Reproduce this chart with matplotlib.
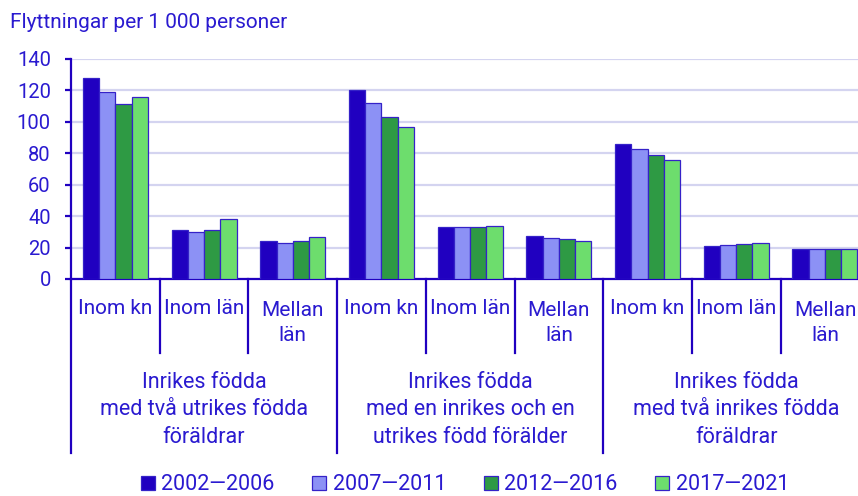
import numpy as np
import matplotlib.pyplot as plt
from matplotlib.patches import Patch

plt.rcParams['font.family'] = ['Roboto', 'DejaVu Sans']

categories = ['Inom kn', 'Inom län', 'Mellan\nlän'] * 3
groups = ['Inrikes födda\nmed två utrikes födda\nföräldrar',
          'Inrikes födda\nmed en inrikes och en\nutrikes född förälder',
          'Inrikes födda\nmed två inrikes födda\nföräldrar']
periods = ['2002\u20142006', '2007\u20142011', '2012\u20142016', '2017\u20142021']

v_2002 = [128, 31, 24.3, 120, 33, 27.3, 85.7, 20.8, 19.2]
v_2007 = [119, 30, 23, 112, 33, 26.2, 83, 21.5, 19.2]
v_2012 = [111.5, 31.5, 24.3, 103, 33, 25.3, 79, 22.4, 19.2]
v_2017 = [116, 38, 26.5, 97, 33.8, 24.5, 75.5, 23, 19.2]
series = [v_2002, v_2007, v_2012, v_2017]

colors = ['#2000c0', '#8c91f5', '#2e9a44', '#6ddd6d']
dark = '#2000c0'
txt = '#2a1ad0'

fig = plt.figure(figsize=(8.58, 4.96), dpi=100)
ax = fig.add_axes([71 / 858, 1 - 279 / 496, 787 / 858, 220 / 496])

x = np.arange(len(categories))
w = 0.183
for i, (vals, c) in enumerate(zip(series, colors)):
    ax.bar(x + (i - 1.5) * w, vals, w, color=c, edgecolor='#3522c8', linewidth=0.9, zorder=3)

ax.set_ylim(0, 140)
ax.set_xlim(-0.5, -0.5 + 787 / 88.7)
ax.set_yticks(range(0, 141, 20))
ax.grid(axis='y', color='#d4d4f0', linewidth=1.6, zorder=0)
for s in ['top', 'right']:
    ax.spines[s].set_visible(False)
for s in ['left', 'bottom']:
    ax.spines[s].set_color(dark)
    ax.spines[s].set_linewidth(1.6)
ax.tick_params(axis='y', colors=dark, labelcolor=txt, labelsize=14.5, length=4.5, width=1.6, pad=10)
ax.set_xticks([])

tr = ax.get_xaxis_transform()
for k in range(len(categories) + 1):
    xb = k - 0.5
    ybot = -0.791 if k % 3 == 0 else -0.336
    ax.plot([xb, xb], [0, ybot], color=dark, lw=1.6, transform=tr, clip_on=False)
for k, lab in enumerate(categories):
    yc = -0.2 if '\n' in lab else -0.136
    ax.text(k, yc, lab, transform=tr, ha='center', va='center', fontsize=15,
            color=txt, linespacing=1.42)
for g, lab in enumerate(groups):
    ax.text(3 * g + 1, -0.595, lab, transform=tr, ha='center', va='center', fontsize=15.5,
            color=txt, linespacing=1.4)

fig.text(10 / 858, 1 - 22 / 496, 'Flyttningar per 1 000 personer', fontsize=15,
         color=txt, ha='left', va='center')

handles = [Patch(facecolor=c, edgecolor='#3522c8', linewidth=0.9) for c in colors]
fig.legend(handles, periods, loc='center', bbox_to_anchor=(465 / 858, 1 - 485 / 496),
           ncol=4, frameon=False, fontsize=15.5, labelcolor=txt, handlelength=0.65,
           handleheight=0.65, handletextpad=0.3, columnspacing=1.75)

fig.savefig('out.png', dpi=100)
